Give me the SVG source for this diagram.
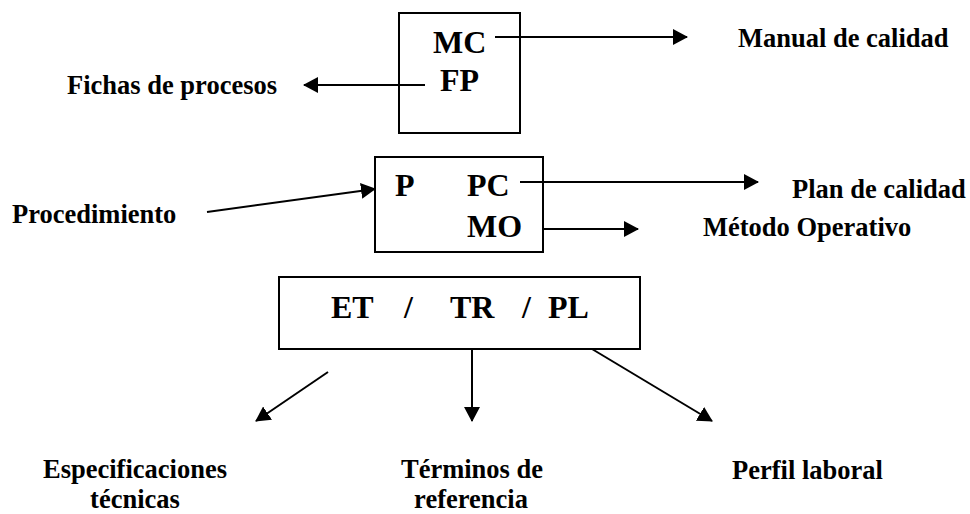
<svg xmlns="http://www.w3.org/2000/svg" width="970" height="514" viewBox="0 0 970 514">
  <style>
    .box { fill: none; stroke: #000; stroke-width: 2; }
    .code { font-family: "Liberation Serif", "Times New Roman", serif; font-weight: bold; font-size: 32px; fill: #000; }
    .lbl { font-family: "Liberation Serif", "Times New Roman", serif; font-weight: bold; font-size: 26.5px; fill: #000; }
    .link { stroke: #000; stroke-width: 2; fill: none; marker-end: url(#arrow); }
  </style>
  <defs>
    <marker id="arrow" viewBox="0 0 15 16" refX="14" refY="8" markerWidth="15" markerHeight="16" markerUnits="userSpaceOnUse" orient="auto">
      <path d="M0,0 L15,8 L0,16 Z" fill="#000"/>
    </marker>
  </defs>
  <rect width="970" height="514" fill="#fff"/>

  <!-- Manual / fichas -->
  <g id="node-mc-fp">
    <rect class="box" x="399" y="13" width="121" height="120"/>
    <text class="code" x="433" y="53">MC</text>
    <text class="code" x="440" y="91">FP</text>
  </g>

  <!-- Procedimiento / plan / método -->
  <g id="node-p-pc-mo">
    <rect class="box" x="375" y="157" width="168" height="95"/>
    <text class="code" x="395" y="196">P</text>
    <text class="code" x="467" y="196">PC</text>
    <text class="code" x="467" y="237">MO</text>
  </g>

  <!-- ET / TR / PL -->
  <g id="node-et-tr-pl">
    <rect class="box" x="279" y="277" width="361" height="72"/>
    <text class="code" x="331" y="318">ET</text>
    <text class="code" x="404" y="318">/</text>
    <text class="code" x="450" y="318">TR</text>
    <text class="code" x="522" y="318">/</text>
    <text class="code" x="548" y="318">PL</text>
  </g>

  <g id="label-manual"><text class="lbl" x="738" y="47">Manual de calidad</text></g>
  <g id="label-fichas"><text class="lbl" x="67" y="94">Fichas de procesos</text></g>
  <g id="label-procedimiento"><text class="lbl" x="12" y="223">Procedimiento</text></g>
  <g id="label-plan"><text class="lbl" x="792" y="198">Plan de calidad</text></g>
  <g id="label-metodo"><text class="lbl" x="703" y="236">Método Operativo</text></g>
  <g id="label-especificaciones">
    <text class="lbl" x="135" y="478" text-anchor="middle">Especificaciones</text>
    <text class="lbl" x="135" y="508" text-anchor="middle">técnicas</text>
  </g>
  <g id="label-terminos">
    <text class="lbl" x="472" y="478" text-anchor="middle">Términos de</text>
    <text class="lbl" x="471" y="508" text-anchor="middle">referencia</text>
  </g>
  <g id="label-perfil"><text class="lbl" x="732" y="479">Perfil laboral</text></g>

  <g id="connectors">
    <line class="link" x1="495" y1="37" x2="687" y2="37"/>
    <line class="link" x1="425" y1="85" x2="304" y2="85"/>
    <line class="link" x1="207" y1="212" x2="375" y2="189"/>
    <line class="link" x1="520" y1="182" x2="758" y2="182"/>
    <line class="link" x1="543" y1="229" x2="638" y2="229"/>
    <line class="link" x1="328" y1="372" x2="256" y2="421"/>
    <line class="link" x1="472" y1="349" x2="472" y2="421"/>
    <line class="link" x1="592" y1="349" x2="712" y2="421"/>
  </g>
</svg>
